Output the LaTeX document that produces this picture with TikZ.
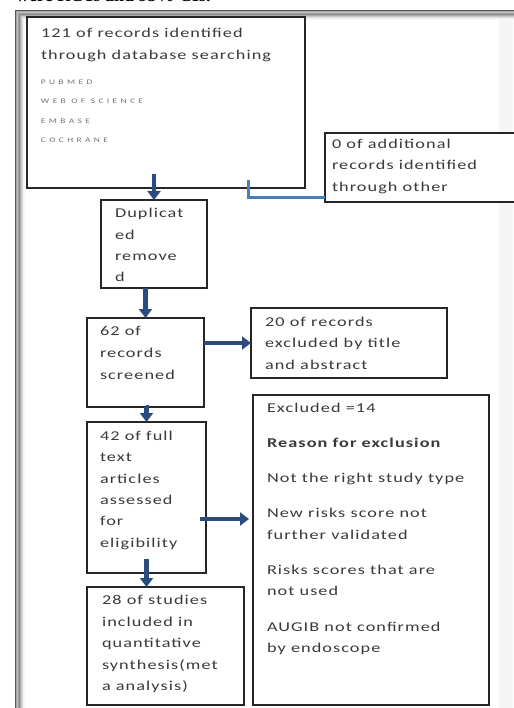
\documentclass[tikz,border=0pt]{standalone}
\usepackage{fontspec}
\setmainfont{Carlito}[LetterSpace=8,FakeStretch=1.35]
\newfontfamily\smallcapsfont{Carlito}[LetterSpace=48,FakeStretch=1.35]
\newfontfamily\topfont{Liberation Serif}
\usetikzlibrary{arrows.meta,calc}
\definecolor{navy}{HTML}{2B4C7E}
\definecolor{lblue}{HTML}{4A7EBB}
\definecolor{txt}{HTML}{3A3A3A}
\newcommand\bxt[5]{\parbox[c][#2pt][t]{#1pt}{\raggedright\leftskip=#3pt\relax\color{txt}\vspace*{#4pt}\rule{0pt}{10pt}#5}}
\tikzset{
  box/.style={draw=black!85, line width=1.3pt, fill=white, inner sep=0pt, outer sep=0pt, anchor=north west},
  thick arrow/.style={draw=navy, line width=4.5pt, -{Triangle[width=13pt,length=9pt]}},
  thin link/.style={draw=lblue, line width=3pt}
}
\begin{document}
\begin{tikzpicture}[x=1pt,y=-1pt,font=\fontsize{13.5}{21.3}\selectfont]
\useasboundingbox (0,0) rectangle (513,708);
% frame
\fill[black!4] (499,20) rectangle (513,708);
\foreach \i/\c in {0/65,1/35,2/25,3/38,4/45,5/32,6/22,7/13,8/6,9/3}
  \draw[black!\c, line width=1pt] ({15.5+\i},{10.5+\i}) -- ({530},{10.5+\i})
      ({15.5+\i},{10.5+\i}) -- ({15.5+\i},720);
% title remnant
\node[anchor=base west, inner sep=0pt, font=\topfont\bfseries\fontsize{18}{20}\selectfont] (title) at (16,1.5) {were RCTs and 95\% CIs.};
% boxes
\node[box] (b1) at (27,17) {\bxt{278}{171}{14}{10.5}{\baselineskip=22.5pt 121 of records identified\\through database searching\par\vspace{5pt}{\smallcapsfont\fontsize{7}{19.5}\selectfont\color{black!55}PUBMED\\WEB OF SCIENCE\\EMBASE\\COCHRANE\par}}};
\node[box] (b2) at (325,133) {\bxt{195}{69}{7}{5.5}{0 of additional\\records identified\\through other}};
\node[box] (dup) at (101,200) {\bxt{106}{88}{14}{8}{Duplicat\\ed\\remove\\d}};
\node[box] (s62) at (87,318) {\bxt{117}{89}{13}{7.5}{\baselineskip=21.8pt 62 of\\records\\screened}};
\node[box] (s20) at (251,308) {\bxt{196}{70}{14}{8.5}{20 of records\\excluded by title\\and abstract}};
\node[box] (s42) at (87,422) {\bxt{119}{151}{13}{8.5}{42 of full\\text\\articles\\assessed\\for\\eligibility}};
\node[box] (exc) at (253,395) {\bxt{236}{310}{14}{7.5}{Excluded =14\par\vspace{14pt}\textbf{Reason for exclusion}\par\vspace{13.5pt}Not the right study type\par\vspace{14pt}New risks score not\\further validated\par\vspace{14pt}Risks scores that are\\not used\par\vspace{14pt}AUGIB not confirmed\\by endoscope}};
\node[box] (s28) at (87,587) {\bxt{157}{118}{15}{7.5}{\baselineskip=21.6pt 28 of studies\\included in\\quantitative\\synthesis(met\\a analysis)}};
% connectors
\coordinate (l1) at (248,180);
\draw[thin link] (l1) |- ($(b2.south west)+(0,-4)$);
\draw[thick arrow] ($(dup.north)+(0,-26)$) -- (dup.north);
\draw[thick arrow] (s62.north |- dup.south) -- (s62.north);
\draw[thick arrow] (s62.south) -- (s42.north |- s62.south) -- (s42.north);
\draw[thick arrow] (s62.east |- s20.west) -- (s20.west);
\draw[thick arrow] ($(s42.east |- 0,519)+(-6,0)$) -- ($(exc.west |- 0,519)+(-4,0)$);
\draw[thick arrow] ($(s42.south)+(0,-14)$) -- (s42.south |- s28.north);
\end{tikzpicture}
\end{document}
